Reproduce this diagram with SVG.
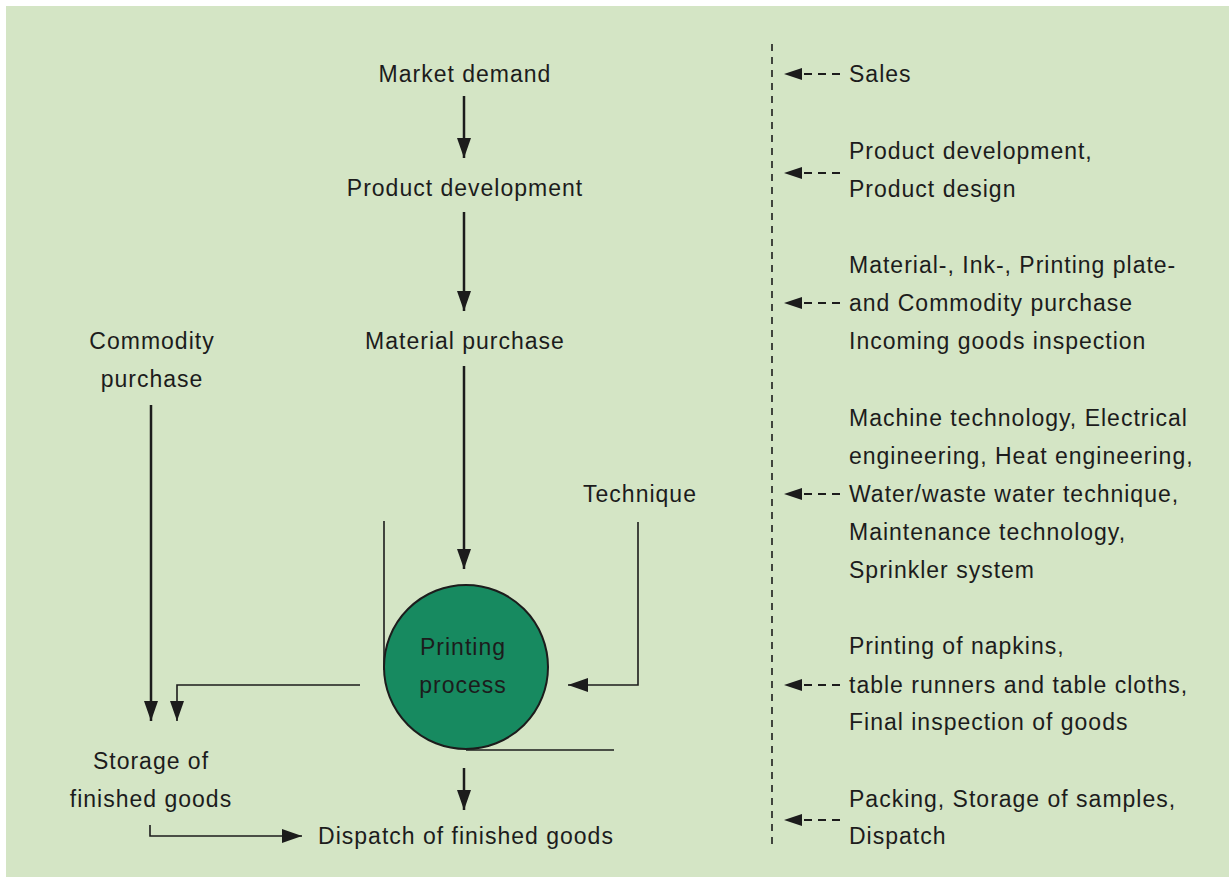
<svg xmlns="http://www.w3.org/2000/svg" width="1229" height="877" viewBox="0 0 1229 877">
<style>
text{font-family:"Liberation Sans",Arial,sans-serif;font-size:23px;fill:#1c1c1c;letter-spacing:1px}
.c{text-anchor:middle}
.a{stroke:#1c1c1c;stroke-width:2.5;fill:none}
.t{stroke:#1c1c1c;stroke-width:1.6;fill:none}
.d{stroke:#1c1c1c;stroke-width:1.8;fill:none;stroke-dasharray:8 6}
</style>
<defs>
<marker id="ah" markerUnits="userSpaceOnUse" markerWidth="22" markerHeight="16" refX="20" refY="7" orient="auto">
<path d="M0,0 L20,7 L0,14 Z" fill="#1c1c1c"/>
</marker>
<marker id="sh" markerUnits="userSpaceOnUse" markerWidth="20" markerHeight="14" refX="18" refY="6" orient="auto">
<path d="M0,0 L18,6 L0,12 Z" fill="#1c1c1c"/>
</marker>
</defs>
<rect x="6" y="6" width="1223" height="871" fill="#d4e5c5"/>
<g id="connectors">
<line class="a" x1="464" y1="96" x2="464" y2="158" marker-end="url(#ah)"/>
<line class="a" x1="464" y1="212" x2="464" y2="311" marker-end="url(#ah)"/>
<line class="a" x1="464" y1="366" x2="464" y2="569" marker-end="url(#ah)"/>
<line class="a" x1="151" y1="405" x2="151" y2="721" marker-end="url(#ah)"/>
<polyline class="t" points="360,685 177,685 177,721" marker-end="url(#ah)"/>
<polyline class="t" points="638,522 638,685 568,685" marker-end="url(#ah)"/>
<line class="a" x1="464" y1="768" x2="464" y2="810" marker-end="url(#ah)"/>
<polyline class="t" points="150,825 150,836 302,836" marker-end="url(#ah)"/>
<line class="t" x1="384" y1="521" x2="384" y2="670"/>
<line class="t" x1="466" y1="750" x2="614" y2="750"/>
<line x1="772" y1="44" x2="772" y2="846" stroke="#1c1c1c" stroke-width="1.6" stroke-dasharray="7 6"/>
<line class="d" x1="840" y1="74" x2="784" y2="74" marker-end="url(#sh)"/>
<line class="d" x1="840" y1="173" x2="784" y2="173" marker-end="url(#sh)"/>
<line class="d" x1="840" y1="303" x2="784" y2="303" marker-end="url(#sh)"/>
<line class="d" x1="840" y1="494" x2="784" y2="494" marker-end="url(#sh)"/>
<line class="d" x1="840" y1="685" x2="784" y2="685" marker-end="url(#sh)"/>
<line class="d" x1="840" y1="820" x2="784" y2="820" marker-end="url(#sh)"/>
</g>
<g id="market-demand"><text class="c" x="465" y="82">Market demand</text></g>
<g id="product-development"><text class="c" x="465" y="196">Product development</text></g>
<g id="material-purchase"><text class="c" x="465" y="349">Material purchase</text></g>
<g id="commodity-purchase"><text class="c" x="152" y="349">Commodity</text><text class="c" x="152" y="387">purchase</text></g>
<g id="technique"><text class="c" x="640" y="502">Technique</text></g>
<g id="printing-process">
<circle cx="466" cy="667" r="82" fill="#178a60" stroke="#1c1c1c" stroke-width="2"/>
<text class="c" x="463" y="655">Printing</text><text class="c" x="463" y="693">process</text>
</g>
<g id="storage"><text class="c" x="151" y="769">Storage of</text><text class="c" x="151" y="807">finished goods</text></g>
<g id="dispatch"><text class="c" x="466" y="844">Dispatch of finished goods</text></g>
<g id="sales"><text x="849" y="82">Sales</text></g>
<g id="r-product"><text x="849" y="159">Product development,</text><text x="849" y="197">Product design</text></g>
<g id="r-material"><text x="849" y="273">Material-, Ink-, Printing plate-</text><text x="849" y="311">and Commodity purchase</text><text x="849" y="349">Incoming goods inspection</text></g>
<g id="r-technique"><text x="849" y="426">Machine technology, Electrical</text><text x="849" y="464">engineering, Heat engineering,</text><text x="849" y="502">Water/waste water technique,</text><text x="849" y="540">Maintenance technology,</text><text x="849" y="578">Sprinkler system</text></g>
<g id="r-printing"><text x="849" y="654">Printing of napkins,</text><text x="849" y="693">table runners and table cloths,</text><text x="849" y="730">Final inspection of goods</text></g>
<g id="r-dispatch"><text x="849" y="807">Packing, Storage of samples,</text><text x="849" y="844">Dispatch</text></g>
</svg>
